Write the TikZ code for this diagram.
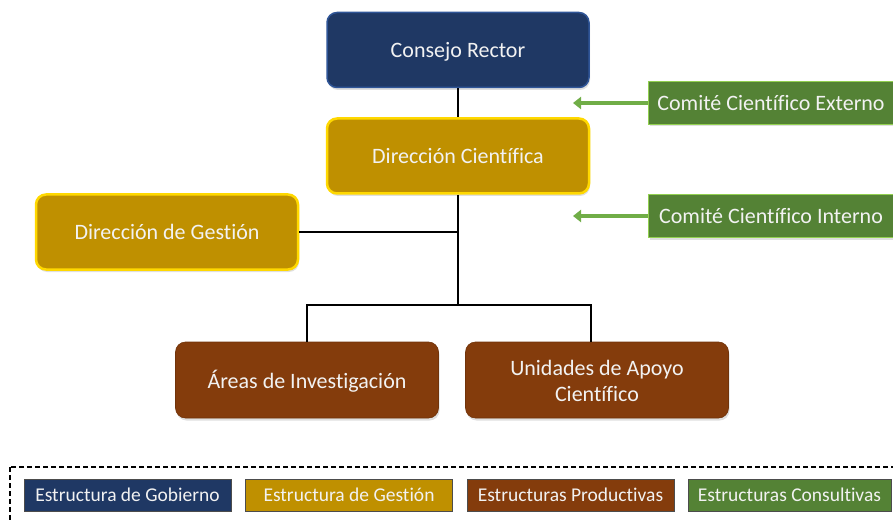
\documentclass[tikz,border=0pt]{standalone}
\usepackage{fontspec}
\setmainfont{Carlito}[Ligatures=NoCommon]
\usetikzlibrary{shadows,arrows.meta,calc}
\definecolor{govblue}{HTML}{1F3864}
\definecolor{govedge}{HTML}{2F5597}
\definecolor{gold}{HTML}{BF9000}
\definecolor{goldedge}{HTML}{FFD800}
\definecolor{brownbox}{HTML}{843C0C}
\definecolor{greenbox}{HTML}{548235}
\definecolor{greenedge}{HTML}{92D050}
\definecolor{arrowgreen}{HTML}{70AD47}
\definecolor{txt}{HTML}{F2F2F2}
\tikzset{
  orgbox/.style={rounded corners=10pt, minimum width=262pt, minimum height=75pt,
    text=txt, font=\fontsize{22}{26}\selectfont, align=center, inner sep=0pt,
    text height=16pt, text depth=0pt,
    drop shadow={opacity=0.25, shadow xshift=1pt, shadow yshift=-2.5pt}},
  govbox/.style={orgbox, fill=govblue, draw=govedge, line width=1.5pt},
  mgmtbox/.style={orgbox, fill=gold, draw=goldedge, line width=2.5pt},
  prodbox/.style={orgbox, fill=brownbox, draw=brownbox!85!black, line width=0.6pt, minimum width=263pt, minimum height=76pt},
  consbox/.style={fill=greenbox, draw=greenedge, line width=1.8pt, minimum width=245pt, minimum height=43pt,
    text=txt, font=\fontsize{22}{26}\selectfont, inner sep=0pt, text height=15pt, text depth=0pt,
    drop shadow={opacity=0.25, shadow xshift=1pt, shadow yshift=-2pt}},
  conn/.style={draw=black, line width=2pt},
  inflow/.style={draw=arrowgreen, line width=3.5pt, -{Triangle[width=12pt,length=8pt]}},
  legbox/.style={minimum width=207pt, minimum height=32pt, draw=black!70, line width=0.8pt,
    text=txt, font=\fontsize{19.5}{23}\selectfont, inner sep=0pt, text height=13pt, text depth=0pt},
  legframe/.style={draw=black, line width=1.5pt, dash pattern=on 5pt off 3pt}
}
\begin{document}
\begin{tikzpicture}[x=1pt,y=-1pt]
\useasboundingbox (0,0) rectangle (893,521);
% legend frame (runs past the right and bottom edges)
\draw[legframe] (10,467) rectangle (905,535);
% main nodes
\node[govbox]  (cr) at (458,50)  {Consejo Rector};
\node[mgmtbox] (dc) at (458,156) {Dirección Científica};
\node[mgmtbox] (dg) at (167,232) {Dirección de Gestión};
\node[prodbox] (ai) at (307,380) {Áreas de Investigación};
\node[prodbox, text height=42pt] (ua) at (597,380) {Unidades de Apoyo\\Científico};
\node[consbox] (ce) at (771,103) {Comité Científico Externo};
\node[consbox] (ci) at (771,216) {Comité Científico Interno};
% junction points
\coordinate (j1) at (458,232);
\coordinate (j2) at (458,305);
\coordinate (ae) at (573,103);
\coordinate (ai2) at (573,216);
% connectors
\draw[conn] (cr.south) -- (dc.north);
\draw[conn] (dc.south) -- (j2);
\draw[conn] (dg.east) -- (j1);
\draw[conn] (ai.north) |- (j2) -| ([xshift=-6pt]ua.north);
\draw[inflow] (ce.west) -- (ae);
\draw[inflow] (ci.west) -- (ai2);
% legend
\node[legbox, fill=govblue]   (l1) at (127.5,495) {Estructura de Gobierno};
\node[legbox, fill=gold]      (l2) at (349,495)   {Estructura de Gestión};
\node[legbox, fill=brownbox]  (l3) at (570.5,495) {Estructuras Productivas};
\node[legbox, fill=greenbox, minimum width=203pt] (l4) at (789.5,495) {Estructuras Consultivas};
\end{tikzpicture}
\end{document}
